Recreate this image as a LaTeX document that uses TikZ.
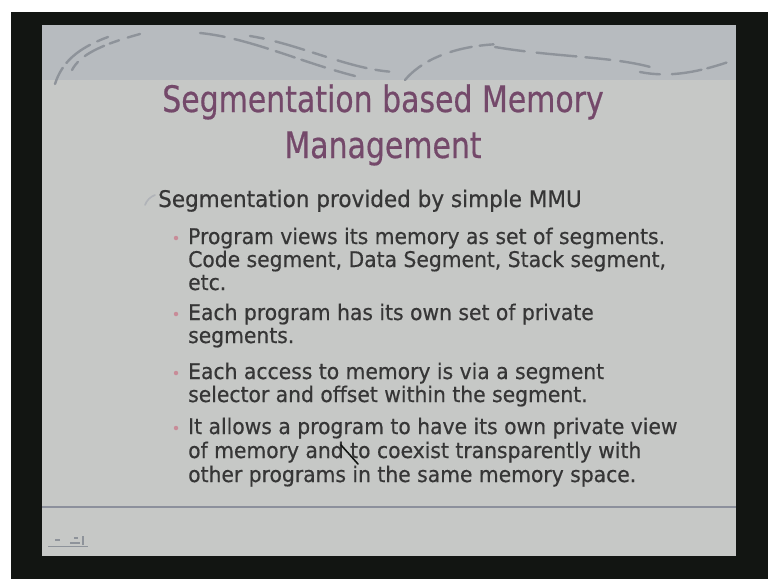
\documentclass[tikz,border=0pt]{standalone}
\usepackage{fontspec}
\setmainfont{DejaVu Sans}
\newfontfamily\slidefont[FakeStretch=0.82,FakeBold=0.5]{DejaVu Sans}
\newfontfamily\bodyfont[FakeStretch=0.94,FakeBold=0.5]{DejaVu Sans}
\definecolor{frameblack}{HTML}{121512}
\definecolor{bandgrey}{HTML}{B7BBBF}
\definecolor{slidegrey}{HTML}{C6C8C6}
\definecolor{swoosh}{HTML}{8E939A}
\definecolor{titlecol}{HTML}{74496A}
\definecolor{textcol}{HTML}{363636}
\definecolor{bulletpink}{HTML}{C88C98}
\definecolor{rulecol}{HTML}{8C909C}
\tikzset{
  titletext/.style={text=titlecol, font=\slidefont\fontsize{36.5}{42}\selectfont, inner sep=0pt, anchor=base},
  levelone/.style={text=textcol, font=\bodyfont\fontsize{22.9}{27}\selectfont, anchor=base west, inner sep=0pt},
  leveltwo/.style={text=textcol, font=\bodyfont\fontsize{21.6}{25}\selectfont, anchor=base west, inner sep=0pt},
  pinkdot/.style={circle, fill=bulletpink, inner sep=0pt, minimum size=4.5pt},
  swooshline/.style={draw=swoosh, line width=2.4pt, line cap=round},
}
\begin{document}
\begin{tikzpicture}[x=1pt,y=-1pt]
\useasboundingbox (0,0) rectangle (768,579);
% photo surroundings
\fill[white] (0,0) rectangle (768,579);
\fill[frameblack] (11,12) rectangle (768,579);
% slide
\fill[slidegrey] (42,25) rectangle (736,556);
\fill[bandgrey] (42,25) rectangle (736,80);
% swooshes
\draw[swooshline, dash pattern=on 18pt off 6pt on 30pt off 8pt] (55,84) .. controls (62,62) and (78,48) .. (108,37);
\draw[swooshline, dash pattern=on 10pt off 9pt on 22pt off 6pt] (72,70) .. controls (80,55) and (100,45) .. (140,34);
\draw[swooshline, dash pattern=on 25pt off 10pt on 35pt off 8pt on 20pt off 7pt] (200,33) .. controls (250,38) and (300,62) .. (355,76);
\draw[swooshline, dash pattern=on 14pt off 12pt on 30pt off 9pt] (250,36) .. controls (300,44) and (350,70) .. (395,72);
\draw[swooshline, dash pattern=on 22pt off 8pt on 14pt off 10pt] (405,80) .. controls (420,62) and (450,46) .. (500,44);
\draw[swooshline, dash pattern=on 30pt off 12pt on 40pt off 9pt on 25pt off 10pt] (495,47) .. controls (560,58) and (620,56) .. (660,70);
\draw[swooshline, dash pattern=on 20pt off 12pt on 30pt off 6pt] (640,72) .. controls (670,78) and (700,72) .. (734,60);
% title
\node[titletext] (t1) at (383,112) {Segmentation based Memory};
\node[titletext] (t2) at (383,158) {Management};
% level one
\draw[draw=swoosh!70, line width=1.6pt, line cap=round] (145,205) .. controls (147,200) and (150,197) .. (155,195);
\node[levelone] (l1) at (158,207) {Segmentation provided by simple MMU};
% level two bullets
\node[pinkdot] (b1) at (176,238) {};
\node[leveltwo] (p1a) at (188,244) {Program views its memory as set of segments.};
\node[leveltwo] (p1b) at (188,267) {Code segment, Data Segment, Stack segment,};
\node[leveltwo] (p1c) at (188,290) {etc.};
\node[pinkdot] (b2) at (176,314) {};
\node[leveltwo] (p2a) at (188,320) {Each program has its own set of private};
\node[leveltwo] (p2b) at (188,343) {segments.};
\node[pinkdot] (b3) at (176,373) {};
\node[leveltwo] (p3a) at (188,379) {Each access to memory is via a segment};
\node[leveltwo] (p3b) at (188,402) {selector and offset within the segment.};
\node[pinkdot] (b4) at (176,428) {};
\node[leveltwo] (p4a) at (188,434) {It allows a program to have its own private view};
\node[leveltwo] (p4b) at (188,458) {of memory and to coexist transparently with};
\node[leveltwo] (p4c) at (188,482) {other programs in the same memory space.};
% pen stroke
\draw[frameblack, line width=1.6pt, line cap=round] (341,445) -- (358,464);
% bottom rule
\draw[rulecol, line width=1.4pt] (42,507) -- (736,507);
% small logo
\draw[swoosh, line width=1pt] (48,546) -- (88,546);
\draw[swoosh, line width=1.2pt] (55,540) -- (60,540) (70,543) -- (80,543) (83,536) -- (83,545) (74,538) -- (78,538);
\end{tikzpicture}
\end{document}
